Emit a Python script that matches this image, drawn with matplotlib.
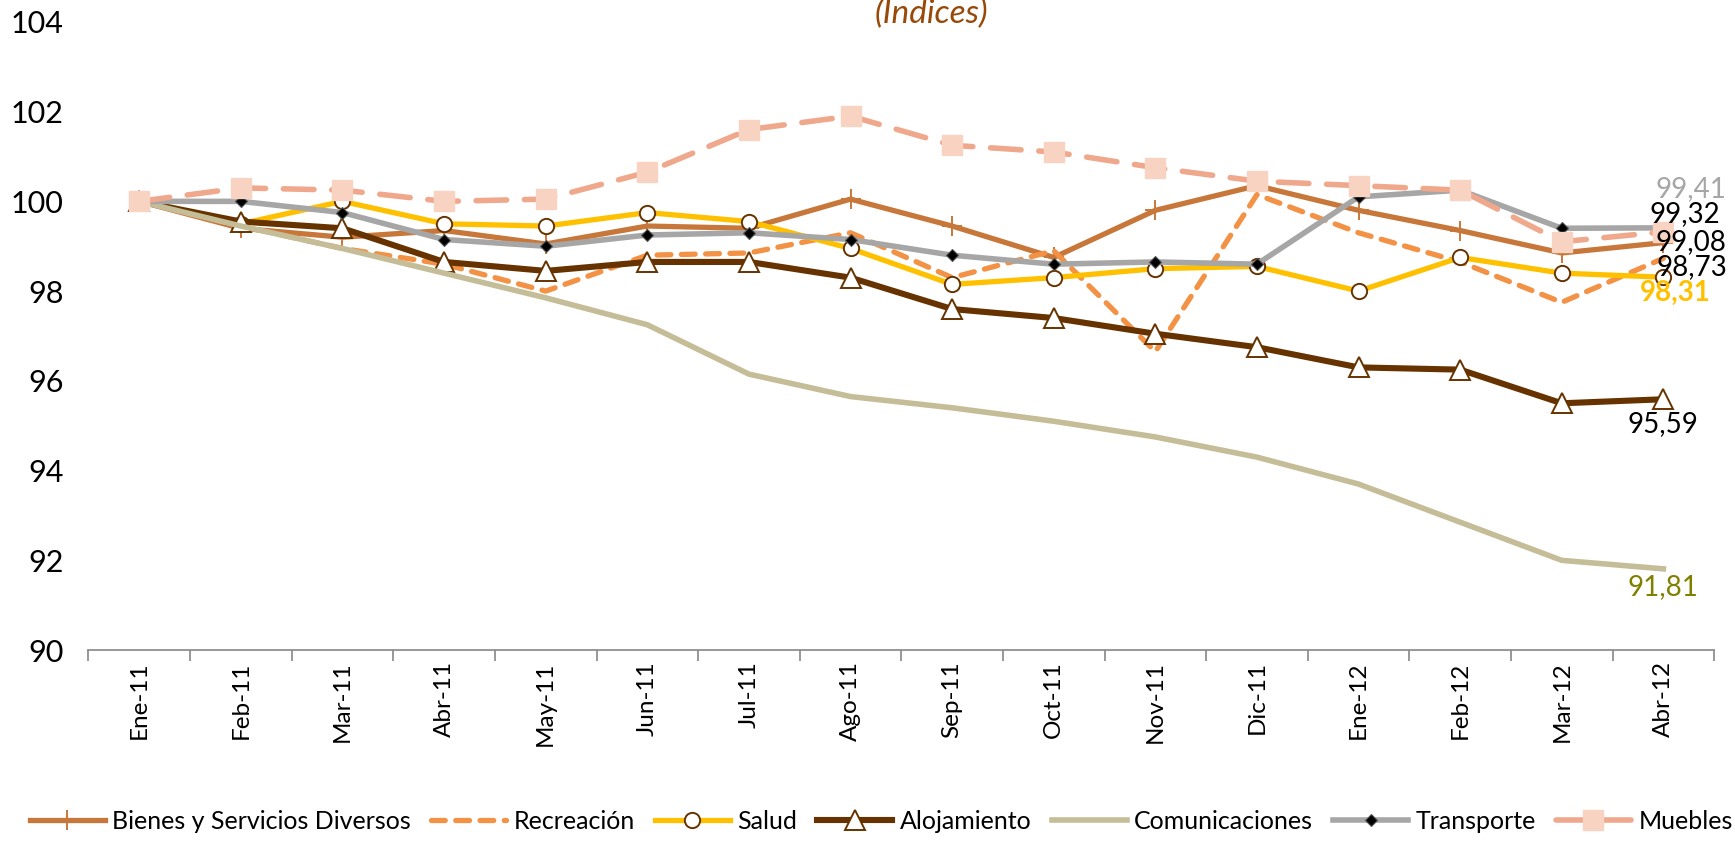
import matplotlib
matplotlib.use("Agg")
import matplotlib.pyplot as plt
import numpy as np

plt.rcParams['font.family'] = ['Lato', 'DejaVu Sans']

meses = ['Ene-11', 'Feb-11', 'Mar-11', 'Abr-11', 'May-11', 'Jun-11', 'Jul-11', 'Ago-11',
         'Sep-11', 'Oct-11', 'Nov-11', 'Dic-11', 'Ene-12', 'Feb-12', 'Mar-12', 'Abr-12']

bienes = [100, 99.4, 99.2, 99.35, 99.05, 99.45, 99.4, 100.05,
          99.45, 98.75, 99.8, 100.35, 99.8, 99.35, 98.85, 99.08]
recreacion = [100, 99.45, 98.95, 98.6, 98.0, 98.8, 98.85, 99.3,
              98.3, 98.9, 96.65, 100.15, 99.3, 98.65, 97.75, 98.73]
salud = [100, 99.5, 100.0, 99.5, 99.45, 99.75, 99.55, 98.95,
         98.15, 98.3, 98.5, 98.55, 98.0, 98.75, 98.4, 98.31]
alojamiento = [100, 99.55, 99.4, 98.65, 98.45, 98.65, 98.65, 98.3,
               97.6, 97.4, 97.05, 96.75, 96.3, 96.25, 95.5, 95.59]
comunicaciones = [100, 99.45, 98.95, 98.4, 97.85, 97.25, 96.15, 95.65,
                  95.4, 95.1, 94.75, 94.3, 93.7, 92.85, 92.0, 91.81]
transporte = [100, 100.0, 99.75, 99.15, 99.0, 99.25, 99.3, 99.15,
              98.8, 98.6, 98.65, 98.6, 100.1, 100.25, 99.4, 99.41]
muebles = [100, 100.3, 100.25, 100.0, 100.05, 100.65, 101.6, 101.9,
           101.25, 101.1, 100.75, 100.45, 100.35, 100.25, 99.1, 99.32]

x = np.arange(len(meses))

fig = plt.figure(figsize=(17.35, 8.41), dpi=100)
ax = fig.add_axes([0.051, 0.227, 0.937, 0.747])

ax.plot(x, bienes, color='#C8773A', lw=3.8, marker='+', ms=15, mew=1.4,
        label='Bienes y Servicios Diversos')
ax.plot(x, recreacion, color='#F39144', lw=3.8, ls=(0, (2.6, 2.0)),
        dash_capstyle='round', label='Recreación')
ax.plot(x, salud, color='#FFC000', lw=3.8, marker='o', ms=11, mfc='white',
        mec='#663300', mew=1.4, label='Salud')
ax.plot(x, alojamiento, color='#663300', lw=4.4, marker='^', ms=15, mfc='white',
        mec='#663300', mew=1.4, label='Alojamiento')
ax.plot(x, comunicaciones, color='#C4BD97', lw=4.0, label='Comunicaciones')
ax.plot(x, transporte, color='#A6A6A6', lw=4.0, marker='D', ms=6, mfc='black',
        mec='#555555', mew=0.8, label='Transporte')
ax.plot(x, muebles, color='#F0A88C', lw=4.0, ls=(0, (5.5, 3.2)), dash_capstyle='round',
        marker='s', ms=14, mfc='#F9D3C2', mec='#F9D3C2', label='Muebles')

# etiquetas del ultimo dato
etiquetas = [
    (transporte, '#A6A6A6', 'normal', (28, 41)),
    (muebles, 'black', 'normal', (21, 20)),
    (bienes, 'black', 'normal', (28, 3)),
    (recreacion, 'black', 'normal', (28, -6)),
    (salud, '#FFC000', 'bold', (12, -13)),
    (alojamiento, 'black', 'normal', (0, -22)),
    (comunicaciones, '#808000', 'normal', (0, -16)),
]
for serie, col, peso, off in etiquetas:
    ax.annotate(f"{serie[-1]:.2f}".replace('.', ','), (x[-1], serie[-1]),
                xytext=off, textcoords='offset pixels', ha='center',
                va='center_baseline', fontsize=20, color=col, fontweight=peso)

ax.set_xlim(-0.5, len(meses) - 0.5)
ax.set_ylim(90, 104)
ax.set_yticks(range(90, 105, 2))
ax.set_xticks(x)
ax.set_xticklabels(meses, rotation=90, fontsize=17.5)
ax.set_xticks(np.arange(-0.5, len(meses), 1), minor=True)
ax.tick_params(axis='x', which='major', length=0, pad=8)
ax.tick_params(axis='x', which='minor', length=8, width=1.2, color='#868686')
ax.tick_params(axis='y', length=0, labelsize=22, pad=18)
for s in ['top', 'right', 'left']:
    ax.spines[s].set_visible(False)
ax.spines['bottom'].set_color('#868686')
ax.spines['bottom'].set_linewidth(1.2)

fig.text(0.537, 0.983, '(Indices)', ha='center', va='center', fontsize=24,
         style='italic', color='#984807')

fig.legend(loc='lower center', bbox_to_anchor=(0.508, -0.017), ncol=7, frameon=False,
           fontsize=18, handlelength=3.0, columnspacing=0.8, handletextpad=0.3)

fig.savefig('out.png', dpi=100)
